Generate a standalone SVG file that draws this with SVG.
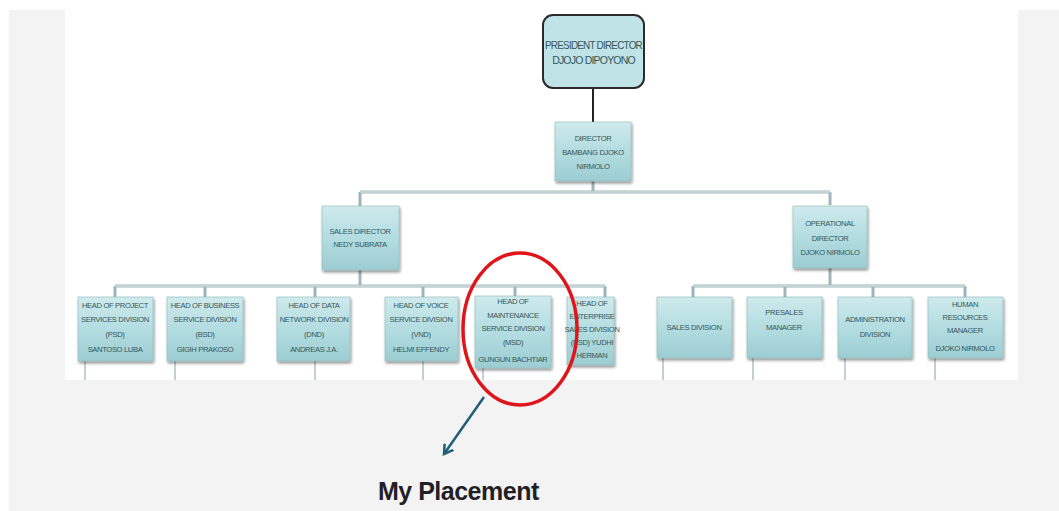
<svg xmlns="http://www.w3.org/2000/svg" width="1059" height="511" viewBox="0 0 1059 511">
<defs>
<linearGradient id="boxg" x1="0" y1="0" x2="0" y2="1">
<stop offset="0" stop-color="#cfeaec"/>
<stop offset="0.5" stop-color="#b3dde1"/>
<stop offset="1" stop-color="#9ccdd2"/>
</linearGradient>
<filter id="sh" x="-20%" y="-20%" width="140%" height="140%">
<feGaussianBlur in="SourceAlpha" stdDeviation="1.5"/>
<feOffset dx="1" dy="2"/>
<feComponentTransfer><feFuncA type="linear" slope="0.45"/></feComponentTransfer>
<feMerge><feMergeNode/><feMergeNode in="SourceGraphic"/></feMerge>
</filter>
<marker id="ah" markerWidth="12" markerHeight="12" refX="9" refY="6" orient="auto" markerUnits="userSpaceOnUse">
<path d="M0,0.5 L9,6 L0,11.5" fill="none" stroke="#1f5f78" stroke-width="2.5"/>
</marker>
</defs>
<style>
.box{fill:url(#boxg);stroke:#8fb9bd;stroke-width:0.6;filter:url(#sh)}
.t{font-family:"Liberation Sans",Arial,sans-serif;font-size:7.6px;fill:#34575b;text-anchor:middle;letter-spacing:-0.35px}
.tb{font-family:"Liberation Sans",Arial,sans-serif;font-size:10.5px;fill:#34575b;text-anchor:middle;letter-spacing:-0.8px}
.c{stroke:#9db5b8;stroke-width:3;fill:none}
.ci{stroke:#e6f0f0;stroke-width:1;fill:none}
.dl{stroke:#a5b9bb;stroke-width:1.3;fill:none}
</style>
<rect x="0" y="0" width="1059" height="511" fill="#ffffff"/>
<rect x="9" y="10" width="1050" height="501" fill="#f3f3f3"/>
<rect x="65" y="10" width="953" height="370" fill="#ffffff"/>

<g id="connectors">
<line x1="593" y1="88" x2="593" y2="122" stroke="#222" stroke-width="2"/>
<path class="c" d="M593,181 V192 M360,192 H830 M360,192 V207 M830,192 V205 M360,270 V286 M115,286 H605 M115,286 V298 M205,286 V298 M315,286 V298 M423,286 V298 M515,286 V297 M605,286 V298 M830,268 V286 M693,286 H965 M693,286 V298 M785,286 V298 M873,286 V298 M965,286 V298"/>
<path class="ci" d="M360,192 H830 M115,286 H605 M693,286 H965"/>
<path class="dl" d="M85,361 V380 M175,361 V380 M315,361 V380 M423,361 V380 M483,368 V380 M663,358 V380 M753,358 V380 M845,358 V380 M935,358 V380"/>
</g>

<g id="president">
<rect x="543" y="15" width="101" height="73" rx="10" fill="#bfe3e6" stroke="#2b2b2b" stroke-width="2"/>
<text class="tb" x="593.5" y="49" textLength="97" lengthAdjust="spacingAndGlyphs">PRESIDENT DIRECTOR</text>
<text class="tb" x="593.5" y="64">DJOJO DIPOYONO</text>
</g>

<g id="director">
<rect class="box" x="555" y="122" width="76" height="59"/>
<text class="t" x="593" y="141">DIRECTOR</text>
<text class="t" x="593" y="155">BAMBANG DJOKO</text>
<text class="t" x="593" y="169">NIRMOLO</text>
</g>

<g id="sales-director">
<rect class="box" x="322" y="206" width="77" height="64"/>
<text class="t" x="360" y="234">SALES  DIRECTOR</text>
<text class="t" x="360" y="247">NEDY SUBRATA</text>
</g>

<g id="operational-director">
<rect class="box" x="793" y="206" width="74" height="62"/>
<text class="t" x="830" y="226">OPERATIONAL</text>
<text class="t" x="830" y="241">DIRECTOR</text>
<text class="t" x="830" y="255">DJOKO NIRMOLO</text>
</g>

<g id="psd">
<rect class="box" x="78" y="297" width="75" height="64"/>
<text class="t" x="115" y="308">HEAD OF PROJECT</text>
<text class="t" x="115" y="322">SERVICES DIVISION</text>
<text class="t" x="115" y="337">(PSD)</text>
<text class="t" x="115" y="352">SANTOSO LUBA</text>
</g>

<g id="bsd">
<rect class="box" x="167" y="297" width="76" height="64"/>
<text class="t" x="205" y="308">HEAD OF BUSINESS</text>
<text class="t" x="205" y="322">SERVICE DIVISION</text>
<text class="t" x="205" y="337">(BSD)</text>
<text class="t" x="205" y="352">GIGIH PRAKOSO</text>
</g>

<g id="dnd">
<rect class="box" x="277" y="297" width="73" height="64"/>
<text class="t" x="314" y="308">HEAD OF DATA</text>
<text class="t" x="314" y="322">NETWORK DIVISION</text>
<text class="t" x="314" y="337">(DND)</text>
<text class="t" x="314" y="352">ANDREAS J.A.</text>
</g>

<g id="vnd">
<rect class="box" x="385" y="297" width="73" height="64"/>
<text class="t" x="421" y="308">HEAD OF VOICE</text>
<text class="t" x="421" y="322">SERVICE DIVISION</text>
<text class="t" x="421" y="337">(VND)</text>
<text class="t" x="421" y="352">HELMI EFFENDY</text>
</g>

<g id="msd">
<rect class="box" x="475" y="296" width="76" height="72"/>
<text class="t" x="513" y="304">HEAD OF</text>
<text class="t" x="513" y="318">MAINTENANCE</text>
<text class="t" x="513" y="331">SERVICE DIVISION</text>
<text class="t" x="513" y="345">(MSD)</text>
<text class="t" x="513" y="362">GUNGUN BACHTIAR</text>
</g>

<g id="esd">
<rect class="box" x="567" y="297" width="47" height="68"/>
<text class="t" x="592" y="306">HEAD OF</text>
<text class="t" x="592" y="319">ENTERPRISE</text>
<text class="t" x="592" y="332">SALES DIVISION</text>
<text class="t" x="592" y="345">(ESD) YUDHI</text>
<text class="t" x="592" y="358">HERMAN</text>
</g>

<g id="sales-division">
<rect class="box" x="657" y="297" width="75" height="61"/>
<text class="t" x="694" y="330">SALES DIVISION</text>
</g>

<g id="presales">
<rect class="box" x="747" y="297" width="75" height="61"/>
<text class="t" x="784" y="315">PRESALES</text>
<text class="t" x="784" y="330">MANAGER</text>
</g>

<g id="administration">
<rect class="box" x="838" y="297" width="74" height="61"/>
<text class="t" x="875" y="322">ADMINISTRATION</text>
<text class="t" x="875" y="337">DIVISION</text>
</g>

<g id="hr">
<rect class="box" x="928" y="297" width="75" height="61"/>
<text class="t" x="965" y="307">HUMAN</text>
<text class="t" x="965" y="320">RESOURCES</text>
<text class="t" x="965" y="333">MANAGER</text>
<text class="t" x="965" y="351">DJOKO NIRMOLO</text>
</g>

<g id="highlight">
<ellipse cx="520" cy="329" rx="57" ry="76" fill="none" stroke="#e0151b" stroke-width="3.5"/>
<line x1="484" y1="397" x2="444" y2="454" stroke="#1f5f78" stroke-width="2.5" marker-end="url(#ah)"/>
<text x="378" y="500" font-family="'Liberation Sans',Arial,sans-serif" font-size="25" font-weight="bold" fill="#231f26" letter-spacing="-0.5">My Placement</text>
</g>
</svg>
